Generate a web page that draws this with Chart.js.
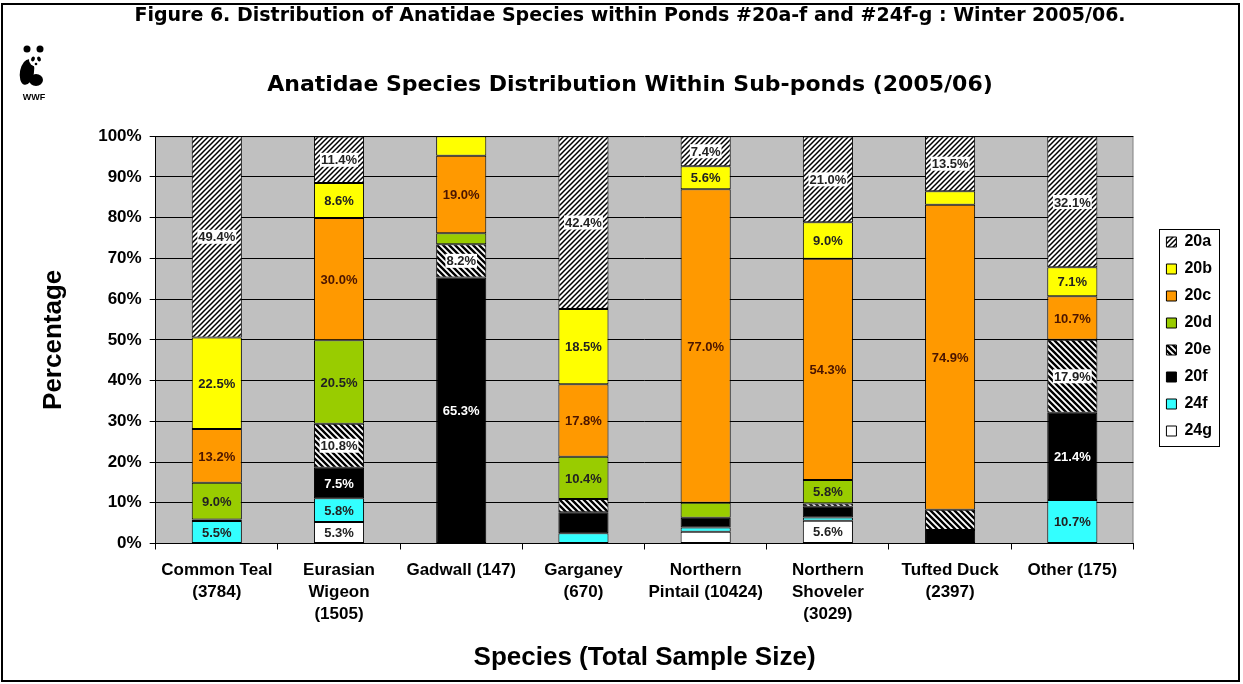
<!DOCTYPE html>
<html lang="en">
<head>
<meta charset="UTF-8">
<title>Anatidae Species Distribution</title>
<script src="https://cdn.jsdelivr.net/npm/chart.js"></script>
<style>
  body { margin: 0; padding: 0; background: #fff; }
  .wrap { position: relative; width: 1243px; height: 684px; }
  .frame { position: absolute; left: 1px; top: 3px; width: 1239px; height: 679px; border: 2px solid #000; box-sizing: border-box; pointer-events: none; }
</style>
</head>
<body>
<div class="wrap">
  <canvas id="chart" width="1243" height="684"></canvas>
  <div class="frame"></div>
</div>
<script>
// categories (species with total sample size)
const categories = [
  ["Common Teal", "(3784)"],
  ["Eurasian", "Wigeon", "(1505)"],
  ["Gadwall (147)"],
  ["Garganey", "(670)"],
  ["Northern", "Pintail (10424)"],
  ["Northern", "Shoveler", "(3029)"],
  ["Tufted Duck", "(2397)"],
  ["Other (175)"]
];

// percentage per sub-pond, bottom of stack first
const pond24g = [0, 5.3, 0, 0, 2.9, 5.6, 0, 0];
const pond24f = [5.5, 5.8, 0, 2.5, 1.0, 0.8, 0, 10.7];
const pond20f = [0.4, 7.5, 65.3, 5.2, 2.4, 2.6, 3.3, 21.4];
const pond20e = [0, 10.8, 8.2, 3.2, 0, 0.8, 5.0, 17.9];
const pond20d = [9.0, 20.5, 2.7, 10.4, 3.7, 5.8, 0, 0];
const pond20c = [13.2, 30.0, 19.0, 17.8, 77.0, 54.3, 74.9, 10.7];
const pond20b = [22.5, 8.6, 4.8, 18.5, 5.6, 9.0, 3.3, 7.1];
const pond20a = [49.4, 11.4, 0, 42.4, 7.4, 21.0, 13.5, 32.1];

const yTicks = [0, 10, 20, 30, 40, 50, 60, 70, 80, 90, 100];

// hatch pattern helper
function hatch(size, width, forward) {
  const c = document.createElement("canvas");
  c.width = size; c.height = size;
  const g = c.getContext("2d");
  g.fillStyle = "#fff";
  g.fillRect(0, 0, size, size);
  g.strokeStyle = "#000";
  g.lineWidth = width;
  g.beginPath();
  if (forward) {
    g.moveTo(-1, size + 1); g.lineTo(size + 1, -1);
    g.moveTo(-size / 2 - 1, size / 2 + 1); g.lineTo(size / 2 + 1, -size / 2 - 1);
    g.moveTo(size / 2 - 1, size * 1.5 + 1); g.lineTo(size * 1.5 + 1, size / 2 - 1);
  } else {
    g.moveTo(-1, -1); g.lineTo(size + 1, size + 1);
    g.moveTo(-size / 2 - 1, size / 2 - 1); g.lineTo(size / 2 + 1, size * 1.5 + 1);
    g.moveTo(size / 2 - 1, -size / 2 - 1); g.lineTo(size * 1.5 + 1, size / 2 + 1);
  }
  g.stroke();
  return document.getElementById("chart").getContext("2d").createPattern(c, "repeat");
}

const hatchA = hatch(5, 1.5, true);
const hatchE = hatch(6, 2.4, false);

const series = [
  { label: "24g", data: pond24g, fill: "#ffffff", text: "#222" },
  { label: "24f", data: pond24f, fill: "#33ffff", text: "#222" },
  { label: "20f", data: pond20f, fill: "#000000", text: "#fff" },
  { label: "20e", data: pond20e, fill: hatchE, text: "#222", box: true },
  { label: "20d", data: pond20d, fill: "#99cc00", text: "#222" },
  { label: "20c", data: pond20c, fill: "#ff9900", text: "#4a1500" },
  { label: "20b", data: pond20b, fill: "#ffff00", text: "#222" },
  { label: "20a", data: pond20a, fill: hatchA, text: "#222", box: true }
];

// gray plot background
const plotBg = {
  id: "plotBg",
  beforeDraw(chart) {
    const a = chart.chartArea, ctx = chart.ctx;
    ctx.save();
    ctx.fillStyle = "#c0c0c0";
    ctx.fillRect(a.left, a.top, a.right - a.left, a.bottom - a.top);
    ctx.strokeStyle = "#8c8c8c";
    ctx.lineWidth = 1;
    ctx.beginPath();
    ctx.moveTo(a.left, a.top + 0.5); ctx.lineTo(a.right - 0.5, a.top + 0.5); ctx.lineTo(a.right - 0.5, a.bottom);
    ctx.stroke();
    ctx.restore();
  }
};

// value labels inside the segments
const segLabels = {
  id: "segLabels",
  afterDatasetsDraw(chart) {
    const ctx = chart.ctx;
    ctx.save();
    ctx.font = "bold 13px 'Liberation Sans', Arial, sans-serif";
    ctx.textAlign = "center";
    ctx.textBaseline = "middle";
    chart.data.datasets.forEach((ds, i) => {
      const meta = chart.getDatasetMeta(i);
      meta.data.forEach((bar, j) => {
        const v = ds.data[j];
        if (v < 5.25) return;
        const txt = v.toFixed(1) + "%";
        const y = (bar.y + bar.base) / 2;
        if (series[i].box) {
          const w = ctx.measureText(txt).width + 2;
          ctx.fillStyle = "#fff";
          ctx.fillRect(bar.x - w / 2, y - 7, w, 14);
        }
        ctx.fillStyle = series[i].text;
        ctx.fillText(txt, bar.x, y + 1);
      });
    });
    ctx.restore();
  }
};

// legend frame and logo
const extras = {
  id: "extras",
  afterDraw(chart) {
    const ctx = chart.ctx;
    const boxes = chart.legend.legendHitBoxes;
    if (boxes && boxes.length) {
      let l = Infinity, t = Infinity, r = -Infinity, b = -Infinity;
      boxes.forEach(h => {
        l = Math.min(l, h.left); t = Math.min(t, h.top);
        r = Math.max(r, h.left + h.width); b = Math.max(b, h.top + h.height);
      });
      ctx.save();
      ctx.strokeStyle = "#000";
      ctx.lineWidth = 1;
      ctx.strokeRect(Math.round(l - 7) + 0.5, Math.round(t - 5) + 0.5, Math.round(r - l + 14), Math.round(b - t + 12));
      ctx.restore();
    }
    // small panda mark
    ctx.save();
    ctx.fillStyle = "#000";
    ctx.beginPath(); ctx.arc(27, 49, 3.5, 0, Math.PI * 2); ctx.fill();
    ctx.beginPath(); ctx.arc(40, 49, 3.5, 0, Math.PI * 2); ctx.fill();
    ctx.beginPath(); ctx.ellipse(27, 72, 7, 13, 0.2, 0, Math.PI * 2); ctx.fill();
    ctx.beginPath(); ctx.ellipse(36, 80, 7, 6, 0, 0, Math.PI * 2); ctx.fill();
    ctx.fillStyle = "#fff";
    ctx.beginPath(); ctx.ellipse(36, 60, 7, 6.5, 0, 0, Math.PI * 2); ctx.fill();
    ctx.fillStyle = "#000";
    ctx.beginPath(); ctx.ellipse(33, 59, 1.8, 2.5, 0.4, 0, Math.PI * 2); ctx.fill();
    ctx.beginPath(); ctx.ellipse(39, 59, 1.8, 2.5, -0.4, 0, Math.PI * 2); ctx.fill();
    ctx.beginPath(); ctx.arc(36, 64, 1.3, 0, Math.PI * 2); ctx.fill();
    ctx.font = "bold 9px 'Liberation Sans', Arial, sans-serif";
    ctx.textAlign = "center";
    ctx.textBaseline = "alphabetic";
    ctx.fillText("WWF", 34, 100);
    ctx.restore();
  }
};

const font = "'Liberation Sans', Arial, sans-serif";
const wideFont = "'DejaVu Sans', 'Liberation Sans', sans-serif";

new Chart(document.getElementById("chart"), {
  type: "bar",
  data: {
    labels: categories,
    datasets: series.map(s => ({
      label: s.label,
      data: s.data,
      backgroundColor: s.fill,
      borderColor: "#000",
      borderWidth: 1,
      borderSkipped: false,
      barPercentage: 0.41,
      categoryPercentage: 1
    }))
  },
  options: {
    responsive: false,
    animation: false,
    layout: { padding: { left: 38, right: 21, top: 0, bottom: 11 } },
    plugins: {
      title: {
        display: true,
        text: "Figure 6. Distribution of Anatidae Species within Ponds #20a-f and #24f-g : Winter 2005/06.",
        color: "#000",
        font: { family: wideFont, size: 19, weight: "bold" },
        padding: { top: 5, bottom: 44 }
      },
      subtitle: {
        display: true,
        text: "Anatidae Species Distribution Within Sub-ponds (2005/06)",
        color: "#000",
        font: { family: wideFont, size: 22, weight: "bold" },
        padding: { top: 0, bottom: 38 }
      },
      legend: {
        position: "right",
        reverse: true,
        labels: {
          color: "#000",
          font: { family: font, size: 16, weight: "bold" },
          boxWidth: 10,
          boxHeight: 10,
          padding: 11
        }
      },
      tooltip: { enabled: false }
    },
    scales: {
      x: {
        stacked: true,
        grid: { display: true, drawOnChartArea: false, drawTicks: true, tickLength: 6, color: "#000" },
        border: { color: "#000", width: 1 },
        ticks: {
          color: "#000",
          maxRotation: 0,
          autoSkip: false,
          padding: 10,
          font: { family: font, size: 17, weight: "bold", lineHeight: 1.3 }
        },
        title: {
          display: true,
          text: "Species (Total Sample Size)",
          color: "#000",
          font: { family: font, size: 26, weight: "bold" },
          padding: { top: 6, bottom: 0 }
        }
      },
      y: {
        stacked: true,
        min: 0,
        max: 100,
        afterBuildTicks(scale) { scale.ticks = yTicks.map(v => ({ value: v })); },
        grid: { color: "#000", lineWidth: 1, tickLength: 6 },
        border: { color: "#000", width: 1 },
        ticks: {
          color: "#000",
          padding: 8,
          font: { family: font, size: 17, weight: "bold" },
          callback: v => v + "%"
        },
        title: {
          display: true,
          text: "Percentage",
          color: "#000",
          font: { family: font, size: 26, weight: "bold" },
          padding: { top: 0, bottom: 21 }
        }
      },
      gap: {
        type: "linear",
        position: "right",
        display: true,
        grid: { display: false },
        border: { display: false },
        ticks: { display: false },
        afterFit(scale) { scale.width = 22; }
      }
    }
  },
  plugins: [plotBg, segLabels, extras]
});
</script>
</body>
</html>
